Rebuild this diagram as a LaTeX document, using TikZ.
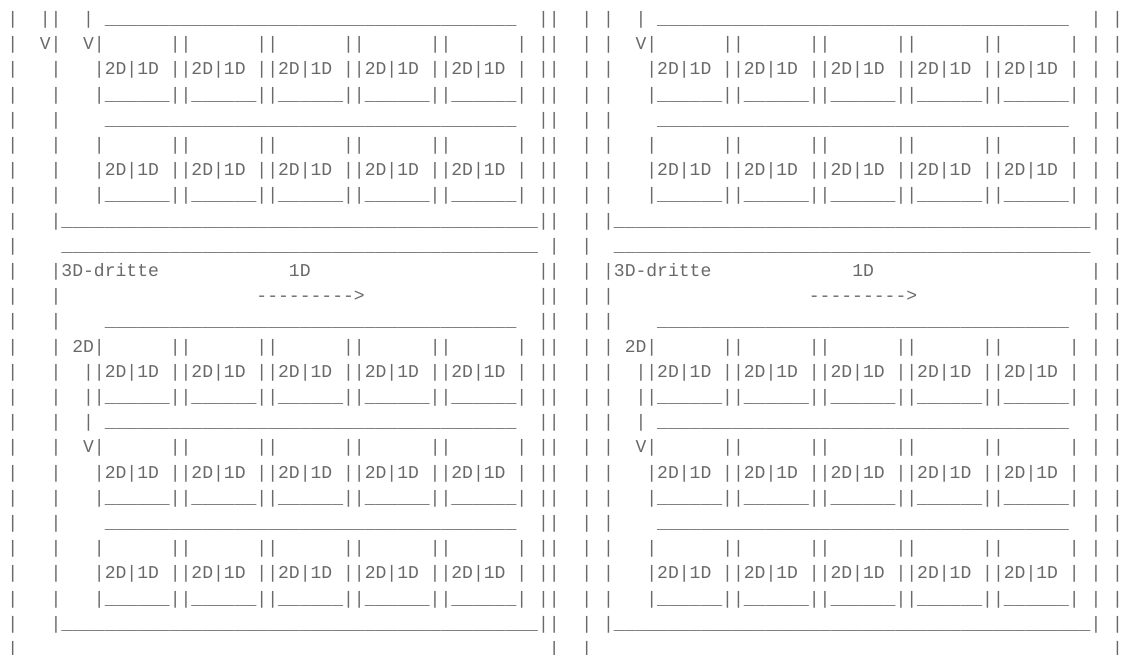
\documentclass[tikz,border=0pt]{standalone}
\usepackage{fontspec}
\usepackage{tikz}
\usepackage{xcolor}
\newfontfamily\asciifont{Liberation Mono}
% one column of the character grid
\newcommand\blank[1]{\hspace*{#1\dimexpr0.6em\relax}}
\newcommand\lowrun[1]{\foreach\k in {1,...,#1}{\_}}
\newcommand\celltext{|2D|1D\ |}
\newcommand\cellopen{|\blank{6}|}
\newcommand\cellfoot{|\lowrun{6}|}
\newcommand\fivecells[1]{#1#1#1#1#1}
\newcommand\midgap{\blank{2}|\blank{1}}

\begin{document}
\begin{tikzpicture}[x=0.75pt,y=0.75pt,yscale=-1,xscale=1,
  ascii/.style={anchor=base west,inner sep=0pt,outer sep=0pt,
    font=\asciifont\fontsize{13.54}{16}\selectfont,
    text={rgb, 255:red, 105; green, 105; blue, 105}}]
\useasboundingbox (0,0) rectangle (1123,655);

% Text Node
\draw (7.3,24.5) node [ascii] (l1) {|\blank{2}||\blank{2}|\blank{1}\lowrun{38}\blank{2}||\midgap|\blank{2}|\blank{1}\lowrun{38}\blank{2}|\blank{1}|};
% Text Node
\draw (7.3,49.7) node [ascii] (l2) {|\blank{2}V|\blank{2}V\fivecells\cellopen\blank{1}||\midgap|\blank{2}V\fivecells\cellopen\blank{1}|\blank{1}|};
% Text Node
\draw (7.3,74.9) node [ascii] (l3) {|\blank{3}|\blank{3}\fivecells\celltext\blank{1}||\midgap|\blank{3}\fivecells\celltext\blank{1}|\blank{1}|};
% Text Node
\draw (7.3,100.1) node [ascii] (l4) {|\blank{3}|\blank{3}\fivecells\cellfoot\blank{1}||\midgap|\blank{3}\fivecells\cellfoot\blank{1}|\blank{1}|};
% Text Node
\draw (7.3,125.3) node [ascii] (l5) {|\blank{3}|\blank{4}\lowrun{38}\blank{2}||\midgap|\blank{4}\lowrun{38}\blank{2}|\blank{1}|};
% Text Node
\draw (7.3,150.5) node [ascii] (l6) {|\blank{3}|\blank{3}\fivecells\cellopen\blank{1}||\midgap|\blank{3}\fivecells\cellopen\blank{1}|\blank{1}|};
% Text Node
\draw (7.3,175.7) node [ascii] (l7) {|\blank{3}|\blank{3}\fivecells\celltext\blank{1}||\midgap|\blank{3}\fivecells\celltext\blank{1}|\blank{1}|};
% Text Node
\draw (7.3,200.9) node [ascii] (l8) {|\blank{3}|\blank{3}\fivecells\cellfoot\blank{1}||\midgap|\blank{3}\fivecells\cellfoot\blank{1}|\blank{1}|};
% Text Node
\draw (7.3,226.1) node [ascii] (l9) {|\blank{3}|\lowrun{44}||\midgap|\lowrun{44}|\blank{1}|};
% Text Node
\draw (7.3,251.3) node [ascii] (l10) {|\blank{4}\lowrun{44}\blank{1}|\midgap\blank{1}\lowrun{44}\blank{2}|};
% Text Node
\draw (7.3,276.5) node [ascii] (l11) {|\blank{3}|3D-dritte\blank{12}1D\blank{21}||\midgap|3D-dritte\blank{13}1D\blank{20}|\blank{1}|};
% Text Node
\draw (7.3,301.7) node [ascii] (l12) {|\blank{3}|\blank{18}--------->\blank{16}||\midgap|\blank{18}--------->\blank{16}|\blank{1}|};
% Text Node
\draw (7.3,326.9) node [ascii] (l13) {|\blank{3}|\blank{4}\lowrun{38}\blank{2}||\midgap|\blank{4}\lowrun{38}\blank{2}|\blank{1}|};
% Text Node
\draw (7.3,352.1) node [ascii] (l14) {|\blank{3}|\blank{1}2D\fivecells\cellopen\blank{1}||\midgap|\blank{1}2D\fivecells\cellopen\blank{1}|\blank{1}|};
% Text Node
\draw (7.3,377.3) node [ascii] (l15) {|\blank{3}|\blank{2}|\fivecells\celltext\blank{1}||\midgap|\blank{2}|\fivecells\celltext\blank{1}|\blank{1}|};
% Text Node
\draw (7.3,402.5) node [ascii] (l16) {|\blank{3}|\blank{2}|\fivecells\cellfoot\blank{1}||\midgap|\blank{2}|\fivecells\cellfoot\blank{1}|\blank{1}|};
% Text Node
\draw (7.3,427.7) node [ascii] (l17) {|\blank{3}|\blank{2}|\blank{1}\lowrun{38}\blank{2}||\midgap|\blank{2}|\blank{1}\lowrun{38}\blank{2}|\blank{1}|};
% Text Node
\draw (7.3,452.9) node [ascii] (l18) {|\blank{3}|\blank{2}V\fivecells\cellopen\blank{1}||\midgap|\blank{2}V\fivecells\cellopen\blank{1}|\blank{1}|};
% Text Node
\draw (7.3,478.1) node [ascii] (l19) {|\blank{3}|\blank{3}\fivecells\celltext\blank{1}||\midgap|\blank{3}\fivecells\celltext\blank{1}|\blank{1}|};
% Text Node
\draw (7.3,503.3) node [ascii] (l20) {|\blank{3}|\blank{3}\fivecells\cellfoot\blank{1}||\midgap|\blank{3}\fivecells\cellfoot\blank{1}|\blank{1}|};
% Text Node
\draw (7.3,528.5) node [ascii] (l21) {|\blank{3}|\blank{4}\lowrun{38}\blank{2}||\midgap|\blank{4}\lowrun{38}\blank{2}|\blank{1}|};
% Text Node
\draw (7.3,553.7) node [ascii] (l22) {|\blank{3}|\blank{3}\fivecells\cellopen\blank{1}||\midgap|\blank{3}\fivecells\cellopen\blank{1}|\blank{1}|};
% Text Node
\draw (7.3,578.9) node [ascii] (l23) {|\blank{3}|\blank{3}\fivecells\celltext\blank{1}||\midgap|\blank{3}\fivecells\celltext\blank{1}|\blank{1}|};
% Text Node
\draw (7.3,604.1) node [ascii] (l24) {|\blank{3}|\blank{3}\fivecells\cellfoot\blank{1}||\midgap|\blank{3}\fivecells\cellfoot\blank{1}|\blank{1}|};
% Text Node
\draw (7.3,629.3) node [ascii] (l25) {|\blank{3}|\lowrun{44}||\midgap|\lowrun{44}|\blank{1}|};
% Text Node
\draw (7.3,654.5) node [ascii] (l26) {|\blank{49}|\midgap\blank{47}|};

\end{tikzpicture}
\end{document}
